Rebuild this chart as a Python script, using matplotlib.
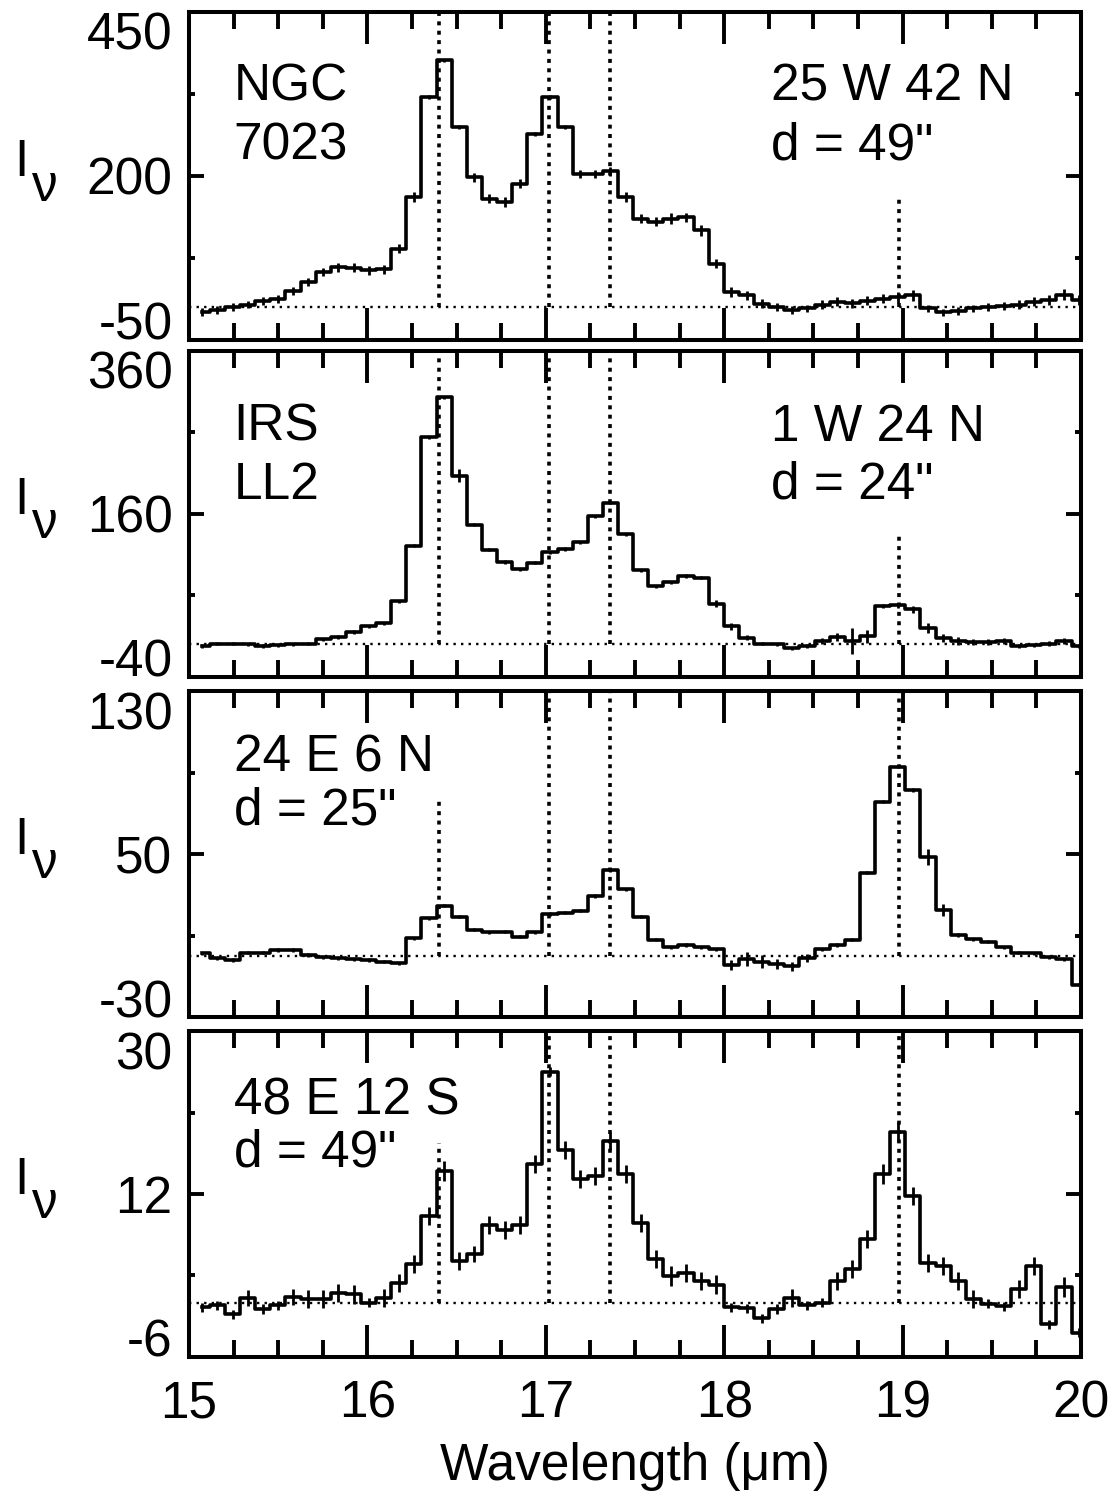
import numpy as np
import matplotlib
matplotlib.use('Agg')
import matplotlib.pyplot as plt
from matplotlib.ticker import MultipleLocator

plt.rcParams['font.family'] = ['Liberation Sans', 'DejaVu Sans']
plt.rcParams['axes.unicode_minus'] = False

# longitud de onda (centro de cada canal, micrones)
longitud_onda = [15.074, 15.159, 15.244, 15.328, 15.413, 15.498, 15.583, 15.667, 15.752, 15.837,
                 15.922, 16.006, 16.091, 16.176, 16.261, 16.345, 16.430, 16.515, 16.600, 16.684,
                 16.769, 16.854, 16.939, 17.023, 17.108, 17.193, 17.278, 17.362, 17.447, 17.532,
                 17.617, 17.701, 17.786, 17.871, 17.956, 18.040, 18.125, 18.210, 18.295, 18.379,
                 18.464, 18.549, 18.634, 18.718, 18.803, 18.888, 18.973, 19.057, 19.142, 19.227,
                 19.312, 19.396, 19.481, 19.566, 19.651, 19.735, 19.820, 19.905, 19.990]

flujo_25w42n = [-8, -4, 0, 4, 9, 13, 25, 38, 53, 61,
                60, 56, 58, 89, 168, 320, 376, 274, 198, 165,
                160, 188, 264, 320, 274, 203, 203, 207, 168, 135,
                130, 135, 137, 117, 66, 23, 18, 5, 0, -4,
                -2, 4, 8, 6, 10, 13, 15, 18, -2, -8,
                -6, -2, 0, 2, 4, 8, 11, 19, 11]
error_25w42n = [6, 6, 6, 6, 6, 6, 6, 6, 6, 7,
                7, 7, 7, 7, 7, 3, 3, 3, 7, 7,
                8, 7, 3, 3, 3, 6, 6, 7, 7, 7,
                7, 8, 7, 8, 7, 7, 7, 7, 6, 6,
                6, 7, 7, 7, 7, 7, 8, 8, 6, 5,
                6, 6, 6, 6, 7, 7, 7, 8, 7]

flujo_1w24n = [-2, 1, 1, 0, -2, -1, 0, 1, 6, 9,
               15, 22, 26, 53, 121, 254, 303, 207, 147, 116,
               101, 92, 100, 113, 117, 125, 157, 174, 135, 91,
               71, 76, 84, 82, 50, 22, 8, 1, 0, -5,
               -2, 4, 9, 4, 10, 47, 48, 43, 20, 8,
               4, 3, 3, 4, -2, -1, 1, 4, -2]
error_1w24n = [2, 2, 2, 2, 2, 2, 2, 2, 2, 2,
               2, 2, 2, 2, 2, 2, 2, 8, 2, 2,
               2, 2, 2, 2, 2, 2, 2, 2, 2, 2,
               2, 2, 2, 2, 4, 4, 3, 2, 2, 2,
               2, 4, 5, 16, 8, 3, 3, 4, 6, 5,
               5, 4, 4, 4, 2, 2, 3, 4, 2]

flujo_24e6n = [1.3, -1.1, -2.0, 1.6, 1.6, 2.9, 2.9, 0.5, -0.7, -1.1,
               -1.6, -2.0, -2.9, -3.6, 8.7, 18.5, 24.7, 19.3, 12.8, 11.5,
               11.9, 9.5, 11.5, 20.6, 21.3, 22.2, 29.4, 42.2, 32.7, 19.3,
               7.9, 4.3, 5.4, 4.3, 3.3, -4.4, -1.6, -2.8, -3.9, -5.2,
               -1.1, 3.3, 5.4, 7.9, 40.9, 75.7, 92.9, 81.5, 48.4, 22.6,
               10.3, 8.2, 7.0, 4.3, 1.6, 1.3, -0.7, -1.6, -14.2]
error_24e6n = [0.8, 0.8, 0.8, 0.8, 0.8, 0.8, 0.8, 0.8, 0.8, 0.8,
               0.8, 0.8, 0.8, 0.8, 0.8, 0.8, 0.8, 0.8, 0.8, 0.8,
               0.8, 0.8, 0.8, 0.8, 0.8, 0.8, 0.8, 0.8, 0.8, 0.8,
               0.8, 0.8, 0.8, 0.8, 0.8, 2.5, 3.5, 3.0, 2.5, 2.0,
               2.0, 0.8, 0.8, 0.8, 0.8, 0.8, 0.8, 0.8, 4.0, 3.0,
               0.8, 0.8, 0.8, 0.8, 0.8, 0.8, 0.8, 0.8, 0.8]

flujo_48e12s = [-0.5, -0.3, -1.3, 0.5, -0.7, -0.3, 0.6, 0.4, 0.4, 1.1,
                0.9, 0.0, 0.5, 2.2, 4.3, 9.6, 14.5, 4.6, 5.4, 8.6,
                8.0, 8.6, 15.3, 25.5, 16.9, 13.7, 14.0, 17.9, 14.2, 8.8,
                4.8, 2.9, 3.3, 2.4, 2.0, -0.5, -0.6, -1.7, -0.7, 0.5,
                -0.3, 0.0, 2.4, 3.7, 7.0, 14.2, 18.8, 11.8, 4.4, 4.0,
                2.4, 0.4, -0.1, -0.4, 1.5, 4.0, -2.4, 1.7, -3.3]
error_48e12s = [0.5, 0.5, 0.5, 0.9, 0.5, 0.5, 0.9, 1.0, 1.0, 1.0,
                1.0, 0.5, 1.0, 1.0, 1.0, 1.0, 1.1, 1.0, 0.9, 1.0,
                1.0, 1.0, 1.0, 0.5, 1.0, 1.0, 1.0, 1.0, 1.0, 1.0,
                1.0, 1.1, 1.0, 1.0, 1.0, 0.5, 0.5, 0.5, 0.5, 1.0,
                0.5, 0.5, 1.0, 1.0, 1.0, 1.1, 1.1, 1.0, 1.0, 1.0,
                1.0, 1.0, 0.5, 0.5, 1.0, 1.0, 0.5, 1.1, 0.5]

lineas = [16.40, 17.02, 17.36, 18.98]
alturas_lineas = [[450, 450, 450, 168], [360, 360, 360, 134],
                  [78, 130, 130, 130], [17.6, 30, 30, 30]]

limites_y = [(-50, 450), (-40, 360), (-30, 130), (-6, 30)]
paso_y = [250, 200, 80, 18]

texto_izq = [('NGC', '7023'), ('IRS', 'LL2'), ('24 E 6 N', 'd = 25"'), ('48 E 12 S', 'd = 49"')]
texto_der = [('25 W 42 N', 'd = 49"'), ('1 W 24 N', 'd = 24"'), None, None]

FS = 37


def graficar_panel(ax, flujo, error, i):
    ymin, ymax = limites_y[i]
    ax.step(longitud_onda, flujo, where='mid', color='k', lw=2.6, zorder=3)
    ax.errorbar(longitud_onda, flujo, yerr=error, fmt='none', ecolor='k',
                elinewidth=2.0, capsize=0, zorder=3)

    ax.axhline(0, color='k', lw=1.7, ls=(0, (1, 2.2)), zorder=2)
    for x, h in zip(lineas, alturas_lineas[i]):
        ax.plot([x, x], [0, h], color='k', lw=2.6, ls=(0, (1.1, 1.5)), zorder=2)

    ax.set_xlim(15, 20)
    ax.set_ylim(ymin, ymax)
    ax.xaxis.set_major_locator(MultipleLocator(1))
    ax.xaxis.set_minor_locator(MultipleLocator(0.25))
    ax.set_yticks([ymin, ymin + paso_y[i], ymax])
    ax.set_yticks([ymin + paso_y[i] / 2, ymin + 3 * paso_y[i] / 2], minor=True)

    ax.tick_params(which='both', direction='in', top=True, right=True, width=2.8,
                   labelsize=FS)
    ax.tick_params(axis='x', which='major', length=23, pad=16)
    ax.tick_params(axis='x', which='minor', length=12)
    ax.tick_params(axis='y', which='major', length=11, pad=12)
    ax.tick_params(axis='y', which='minor', length=4.5)
    for s in ax.spines.values():
        s.set_linewidth(2.9)

    ticks = ax.yaxis.get_major_ticks()
    ticks[0].label1.set_va('baseline')
    ticks[-1].label1.set_va('top')

    a, b = texto_izq[i]
    pos = [(0.729, 0.549), (0.724, 0.546), (0.752, 0.592), (0.745, 0.583)][i]
    ax.text(0.050, pos[0], a, transform=ax.transAxes, fontsize=FS, va='baseline')
    ax.text(0.050, pos[1], b, transform=ax.transAxes, fontsize=FS, va='baseline')
    if texto_der[i] is not None:
        a, b = texto_der[i]
        ax.text(0.652, pos[0], a, transform=ax.transAxes, fontsize=FS, va='baseline')
        ax.text(0.652, pos[1], b, transform=ax.transAxes, fontsize=FS, va='baseline')

    ax.text(-0.196, 0.5, 'I', transform=ax.transAxes, fontsize=FS, va='baseline')
    ax.text(-0.176, 0.425, 'ν', transform=ax.transAxes, fontsize=FS, va='baseline')


def main():
    fig = plt.figure(figsize=(11.14, 14.91), dpi=100)
    flujos = [flujo_25w42n, flujo_1w24n, flujo_24e6n, flujo_48e12s]
    errores = [error_25w42n, error_1w24n, error_24e6n, error_48e12s]
    bottoms = [0.7720, 0.5460, 0.3179, 0.0899]
    alturas = [0.2200, 0.2186, 0.2186, 0.2186]

    for i in range(4):
        ax = fig.add_axes([0.1697, bottoms[i], 0.8007, alturas[i]])
        graficar_panel(ax, flujos[i], errores[i], i)
        if i < 3:
            ax.tick_params(axis='x', labelbottom=False)
        else:
            ax.set_xlabel('Wavelength (μm)', fontsize=FS, labelpad=10)

    fig.savefig('out.png', dpi=100)


main()
